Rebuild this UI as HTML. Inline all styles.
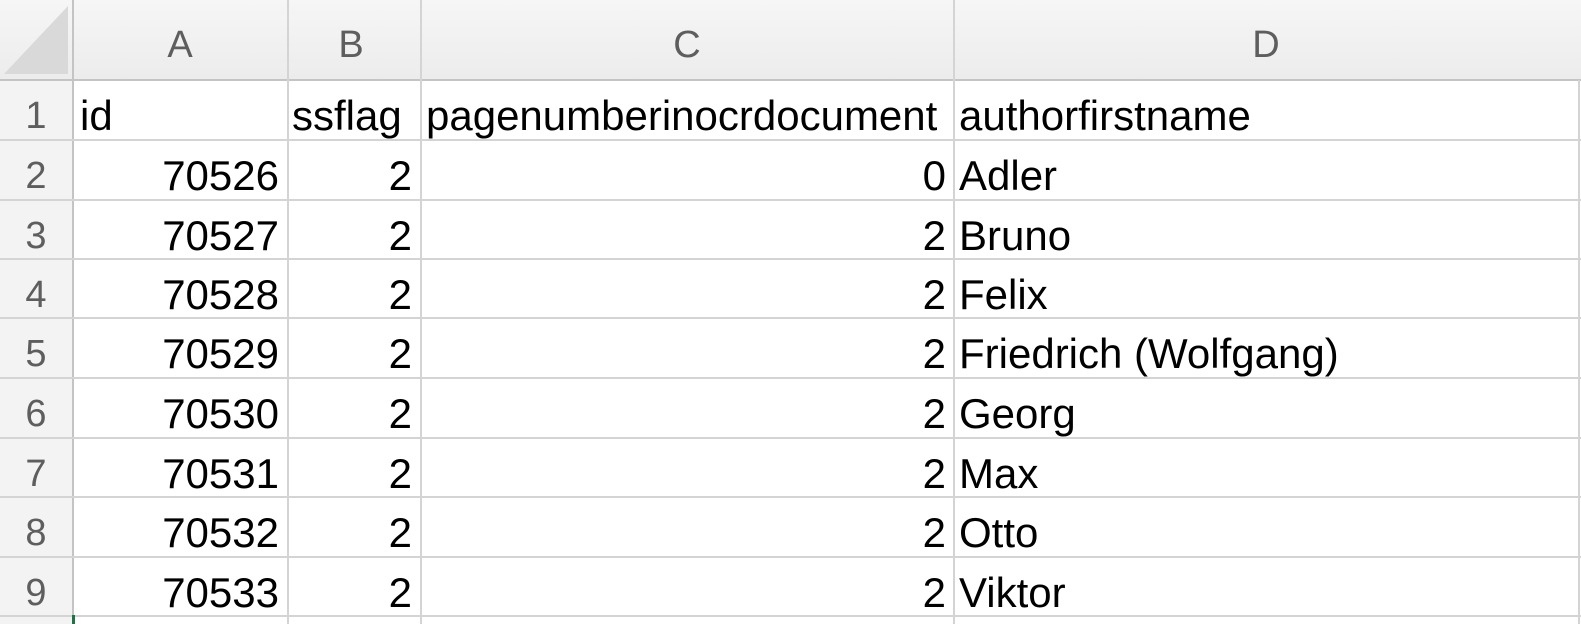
<!DOCTYPE html>
<html><head><meta charset="utf-8"><style>
body{margin:0;width:1581px;height:624px;background:#fff;overflow:hidden;position:relative;font-family:"Liberation Sans",sans-serif}
.hdr{position:absolute;left:0;top:0;width:1581px;height:80px;background:linear-gradient(#f6f6f6,#ececec)}
.rh{position:absolute;left:0;top:80px;width:73px;height:544px;background:#f3f3f3}
.h{position:absolute;background:#d4d4d4}
.t{position:absolute;font-size:42px;color:#000;white-space:nowrap;line-height:1}
.g{color:#5e5e5e;font-size:38px}
</style></head><body>
<div class="hdr"></div><div class="rh"></div>
<svg style="position:absolute;left:0;top:0" width="74" height="80"><polygon points="4,74 68,6 68,74" fill="#d9d9d9"/></svg>
<div class="h" style="left:0;top:79px;width:1581px;height:2px;background:#c4c4c4"></div>
<div class="h" style="left:72px;top:0;width:2px;height:624px;background:#c4c4c4"></div>
<div class="h" style="left:287px;top:0;width:2px;height:624px"></div>
<div class="h" style="left:420px;top:0;width:2px;height:624px"></div>
<div class="h" style="left:953px;top:0;width:2px;height:624px"></div>
<div class="h" style="left:1578px;top:80px;width:2px;height:544px"></div>
<div id="rows"></div>
<div style="position:absolute;left:72px;top:615px;width:3px;height:9px;background:#217346"></div>
<script>
var R=document.getElementById('rows'),h='';
var tops=[80,140,200,259,318,378,438,497,557,616];
for(var i=1;i<tops.length;i++)h+='<div class="h" style="left:0;top:'+(tops[i]-1)+'px;width:1581px;height:2px"></div>';
function t(x,y,s,cls,al){var st=al=='r'?'right:'+(1581-x)+'px':al=='c'?'left:'+(x-200)+'px;width:400px;text-align:center':'left:'+x+'px';h+='<div class="t '+(cls||'')+'" style="'+st+';top:'+y+'px">'+s+'</div>';}
t(180,26,'A','g','c');t(351,26,'B','g','c');t(687,26,'C','g','c');t(1266,26,'D','g','c');
var data=[['id','ssflag','pagenumberinocrdocument','authorfirstname'],['70526','2','0','Adler'],['70527','2','2','Bruno'],['70528','2','2','Felix'],['70529','2','2','Friedrich (Wolfgang)'],['70530','2','2','Georg'],['70531','2','2','Max'],['70532','2','2','Otto'],['70533','2','2','Viktor']];
for(var r=0;r<9;r++){var y=tops[r]+47-32;
t(36,y+2,String(r+1),'g','c');
if(r==0){t(80,y,'id');t(292,y,'ssflag');t(426,y,'pagenumberinocrdocument');t(959,y,'authorfirstname');}
else{t(279,y,data[r][0],'','r');t(412,y,data[r][1],'','r');t(946,y,data[r][2],'','r');t(959,y,data[r][3]);}}
R.innerHTML=h;
</script>
</body></html>
